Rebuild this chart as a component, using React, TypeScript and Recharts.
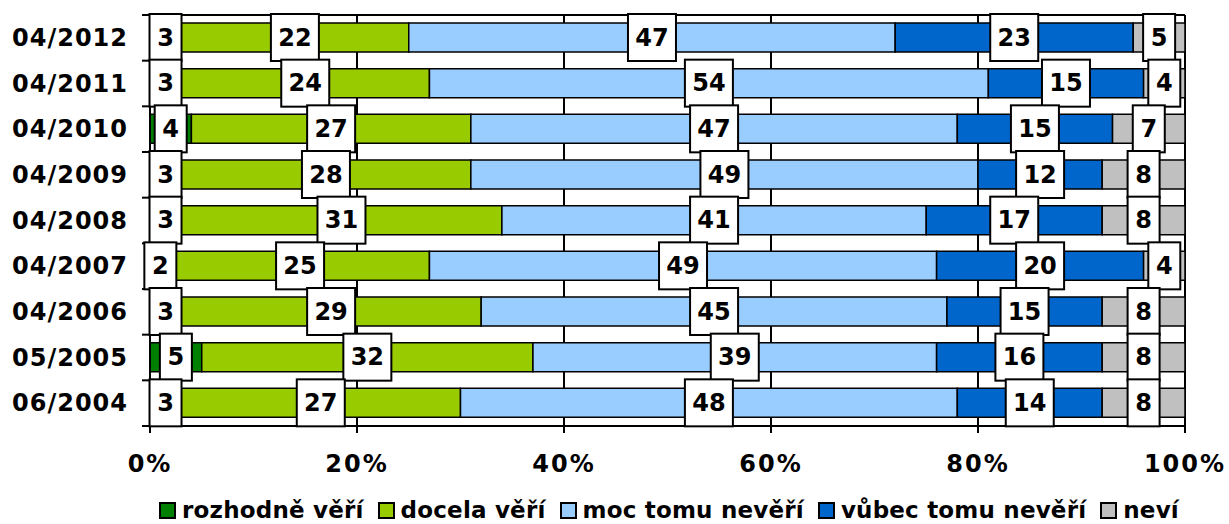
import React from 'react';
import { BarChart, Bar, XAxis, YAxis, CartesianGrid, Legend, LabelList } from 'recharts';

const categories = ['04/2012', '04/2011', '04/2010', '04/2009', '04/2008', '04/2007', '04/2006', '05/2005', '06/2004'];
const rozhodne = [3, 3, 4, 3, 3, 2, 3, 5, 3];
const docela = [22, 24, 27, 28, 31, 25, 29, 32, 27];
const moc = [47, 54, 47, 49, 41, 49, 45, 39, 48];
const vubec = [23, 15, 15, 12, 17, 20, 15, 16, 14];
const nevi = [5, 4, 7, 8, 8, 4, 8, 8, 8];
const xTicks = [0, 20, 40, 60, 80, 100];

const seriesNames = ['rozhodně věří', 'docela věří', 'moc tomu nevěří', 'vůbec tomu nevěří', 'neví'];
const seriesKeys = ['rozhodne', 'docela', 'moc', 'vubec', 'nevi'];
const seriesColors = ['#008000', '#99CC00', '#99CCFF', '#0066CC', '#C0C0C0'];

const data = categories.map((name, i) => ({
  name,
  rozhodne: rozhodne[i],
  docela: docela[i],
  moc: moc[i],
  vubec: vubec[i],
  nevi: nevi[i],
}));

const FONT = '"DejaVu Sans", Verdana, sans-serif';
const AXIS_X = 150;

const BoxLabel = (props: any) => {
  const { x, y, width, height, value } = props;
  const cx = Number(x) + Number(width) / 2;
  const cy = Number(y) + Number(height) / 2;
  const s = String(value);
  const w = 16 * s.length + 16;
  const h = 47;
  return (
    <g>
      <rect x={cx - w / 2} y={cy - h / 2} width={w} height={h} fill="#fff" stroke="#000" strokeWidth={2} />
      <text x={cx} y={cy} textAnchor="middle" dominantBaseline="central" fontFamily={FONT} fontWeight="bold" fontSize={24} fill="#000">
        {s}
      </text>
    </g>
  );
};

const YTick = (props: any) => {
  const { y, payload, index } = props;
  const half = payload && payload.offset ? payload.offset : 411 / 18;
  const last = index === categories.length - 1;
  return (
    <g>
      <line x1={AXIS_X - 8} x2={AXIS_X} y1={y - half} y2={y - half} stroke="#000" strokeWidth={2} />
      {last && <line x1={AXIS_X - 8} x2={AXIS_X} y1={y + half} y2={y + half} stroke="#000" strokeWidth={2} />}
      <text x={128} y={y} textAnchor="end" dominantBaseline="central" fontFamily={FONT} fontWeight="bold" fontSize={24} letterSpacing={1} fill="#000">
        {payload.value}
      </text>
    </g>
  );
};

const LegendContent = () => (
  <div style={{ display: 'flex', justifyContent: 'center', alignItems: 'center', height: 28, paddingLeft: 109, fontFamily: FONT, fontWeight: 'bold', fontSize: 23, letterSpacing: 0.2, color: '#000', whiteSpace: 'nowrap' }}>
    {seriesNames.map((n, i) => (
      <div key={n} style={{ display: 'flex', alignItems: 'center', marginRight: i < seriesNames.length - 1 ? 14 : 0 }}>
        <div style={{ width: 13, height: 13, background: seriesColors[i], border: '2px solid #000', marginRight: 6 }} />
        <span>{n}</span>
      </div>
    ))}
  </div>
);

export default function App() {
  return (
    <div style={{ width: 1229, height: 524, background: '#fff' }}>
      <style>{`body{margin:0;}`}</style>
      <BarChart
        width={1229}
        height={524}
        data={data}
        layout="vertical"
        margin={{ top: 15, right: 44, left: 0, bottom: 0 }}
        barSize={29}
      >
        <CartesianGrid
          stroke="#000"
          strokeWidth={2}
          vertical={true}
          horizontal={true}
          horizontalCoordinatesGenerator={(p: any) => [p.offset.top]}
        />
        <XAxis
          type="number"
          domain={[0, 100]}
          ticks={xTicks}
          interval={0}
          tickFormatter={(v: number) => `${v}%`}
          stroke="#000"
          axisLine={{ stroke: '#000', strokeWidth: 2 }}
          tickLine={{ stroke: '#000', strokeWidth: 2 }}
          tickSize={7}
          tickMargin={22}
          height={70}
          tick={{ fill: '#000', fontFamily: FONT, fontWeight: 'bold', fontSize: 24, letterSpacing: 2 }}
        />
        <YAxis
          type="category"
          dataKey="name"
          width={150}
          axisLine={{ stroke: '#000', strokeWidth: 2 }}
          tickLine={false}
          tick={<YTick />}
          interval={0}
        />
        <Legend
          verticalAlign="bottom"
          content={<LegendContent />}
          wrapperStyle={{ left: 0, width: 1229, bottom: 0 }}
        />
        {seriesKeys.map((k, i) => (
          <Bar key={k} dataKey={k} name={seriesNames[i]} stackId="a" fill={seriesColors[i]} stroke="#000" strokeWidth={1.5} isAnimationActive={false}>
            <LabelList dataKey={k} content={<BoxLabel />} />
          </Bar>
        ))}
      </BarChart>
    </div>
  );
}
